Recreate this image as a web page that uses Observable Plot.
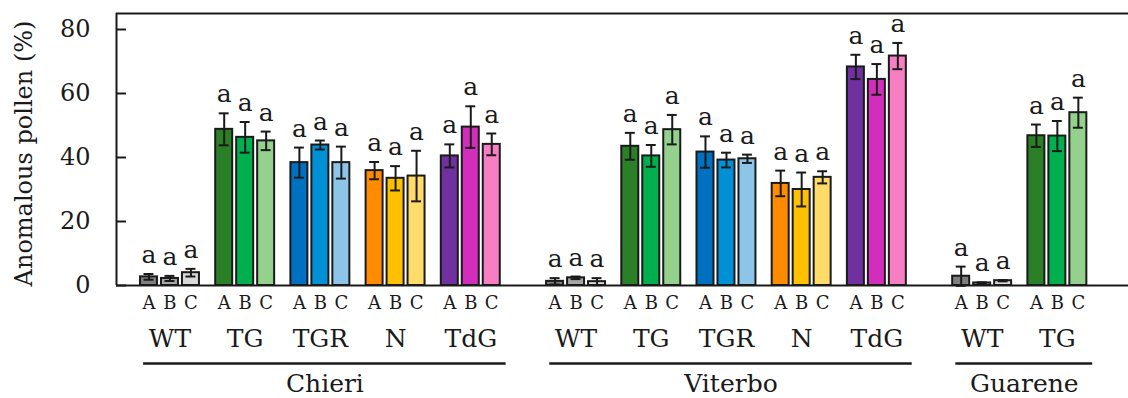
<!DOCTYPE html>
<html><head><meta charset="utf-8">
<script src="https://cdn.jsdelivr.net/npm/d3@7"></script>
<script src="https://cdn.jsdelivr.net/npm/@observablehq/plot@0.6"></script>
<style>body{margin:0;background:#fff}</style>
</head><body><div id="chart"></div>
<script>
const sites = ["Chieri", "Viterbo", "Guarene"];
const groupSite = [0, 0, 0, 0, 0, 1, 1, 1, 1, 1, 2, 2];
const groupName = ["WT", "TG", "TGR", "N", "TdG", "WT", "TG", "TGR", "N", "TdG", "WT", "TG"];
const levels = ["A", "B", "C"];
const means = [
  [2.7, 2.2, 4.0], [48.8, 46.3, 45.2], [38.4, 43.9, 38.4], [35.9, 33.5, 34.2], [40.5, 49.5, 44.1],
  [1.3, 2.4, 1.2], [43.5, 40.5, 48.7], [41.7, 39.2, 39.6], [31.9, 30.0, 33.8], [68.3, 64.4, 71.7],
  [2.9, 0.8, 1.5], [46.8, 46.7, 54.0]
];
const errors = [
  [0.9, 0.8, 1.2], [5.0, 4.8, 2.9], [4.7, 1.4, 5.0], [2.7, 3.8, 7.9], [3.6, 6.5, 3.4],
  [1.0, 0.4, 1.1], [4.2, 3.4, 4.6], [4.9, 2.3, 1.3], [4.0, 5.3, 1.9], [3.8, 4.8, 4.1],
  [3.0, 0.2, 0.2], [3.5, 4.7, 4.7]
];
const letters = groupName.map(() => ["a", "a", "a"]);
const yTicks = [0, 20, 40, 60, 80];
const yLabel = "Anomalous pollen (%)";
const palette = {
  WT: ["#7f7f7f", "#a6a6a6", "#d9d9d9"],
  TG: ["#2a7f27", "#00b04f", "#93d18c"],
  TGR: ["#0070c0", "#0090d6", "#8dc5e9"],
  N: ["#ff8c00", "#ffc000", "#ffdc6a"],
  TdG: ["#7030a0", "#d22ebb", "#f77ec2"]
};

// layout (in group-step units)
const siteGap = 0.4, barStep = 0.279, barHalf = 0.113, capHalf = 0.066;
const xMin = -0.711, xMax = 12.746, yMax = 85;
const groupPos = groupSite.map((s, i) => i + s * siteGap);
const bars = [];
means.forEach((row, g) => row.forEach((v, k) => bars.push({
  g, level: levels[k], x: groupPos[g] + (k - 1) * barStep, v, e: errors[g][k],
  letter: letters[g][k], color: palette[groupName[g]][k]
})));
const groups = groupName.map((name, g) => ({name, x: groupPos[g]}));
const siteLines = sites.map((name, s) => {
  const xs = groupPos.filter((_, g) => groupSite[g] === s);
  const x1 = xs[0] - 0.35, x2 = xs[xs.length - 1] + 0.47;
  return {name, x1, x2, x: (x1 + x2) / 2};
});
const ink = "#1a1a1a";

const chart = Plot.plot({
  width: 1128, height: 398,
  marginLeft: 116, marginRight: 0, marginTop: 13, marginBottom: 113,
  style: {fontFamily: "DejaVu Serif", fontSize: "24px", color: ink, background: "#fff"},
  x: {domain: [xMin, xMax], axis: null},
  y: {domain: [0, yMax], ticks: yTicks, tickSize: 0, tickPadding: 26, label: null, tickFormat: d => d},
  marks: [
    Plot.rectY(bars, {x1: d => d.x - barHalf, x2: d => d.x + barHalf, y1: 0, y2: "v", fill: "color", stroke: ink, strokeWidth: 2}),
    Plot.ruleX(bars, {x: "x", y1: d => d.v - d.e, y2: d => d.v + d.e, stroke: ink, strokeWidth: 2}),
    Plot.ruleY(bars, {x1: d => d.x - capHalf, x2: d => d.x + capHalf, y: d => d.v + d.e, stroke: ink, strokeWidth: 2}),
    Plot.ruleY(bars, {x1: d => d.x - capHalf, x2: d => d.x + capHalf, y: d => d.v - d.e, stroke: ink, strokeWidth: 2}),
    Plot.text(bars, {x: "x", y: d => d.v + d.e, text: "letter", dy: -11, lineAnchor: "bottom", fontSize: 25, fill: ink}),
    Plot.ruleY([0, yMax], {x1: xMin, x2: xMax, stroke: ink, strokeWidth: 2}),
    Plot.ruleX([xMin], {y1: 0, y2: yMax, stroke: ink, strokeWidth: 2}),
    Plot.ruleY(yTicks, {x1: xMin, x2: xMin + 0.133, stroke: ink, strokeWidth: 2}),
    Plot.text(bars, {x: "x", y: 0, text: "level", dy: 23, lineAnchor: "bottom", fontSize: 18, fill: ink}),
    Plot.text(groups, {x: "x", y: 0, text: "name", dy: 61, lineAnchor: "bottom", fontSize: 25, fill: ink}),
    Plot.ruleY(siteLines, {x1: "x1", x2: "x2", y: 0, dy: 78, stroke: ink, strokeWidth: 2.5}),
    Plot.text(siteLines, {x: "x", y: 0, text: "name", dy: 106, lineAnchor: "bottom", fontSize: 25, fill: ink}),
    Plot.text([yLabel], {x: xMin, y: yMax / 2, text: d => d, rotate: -90, dx: -92, dy: 4, fontSize: 24, fill: ink})
  ]
});
document.getElementById("chart").appendChild(chart);
</script>
</body></html>
